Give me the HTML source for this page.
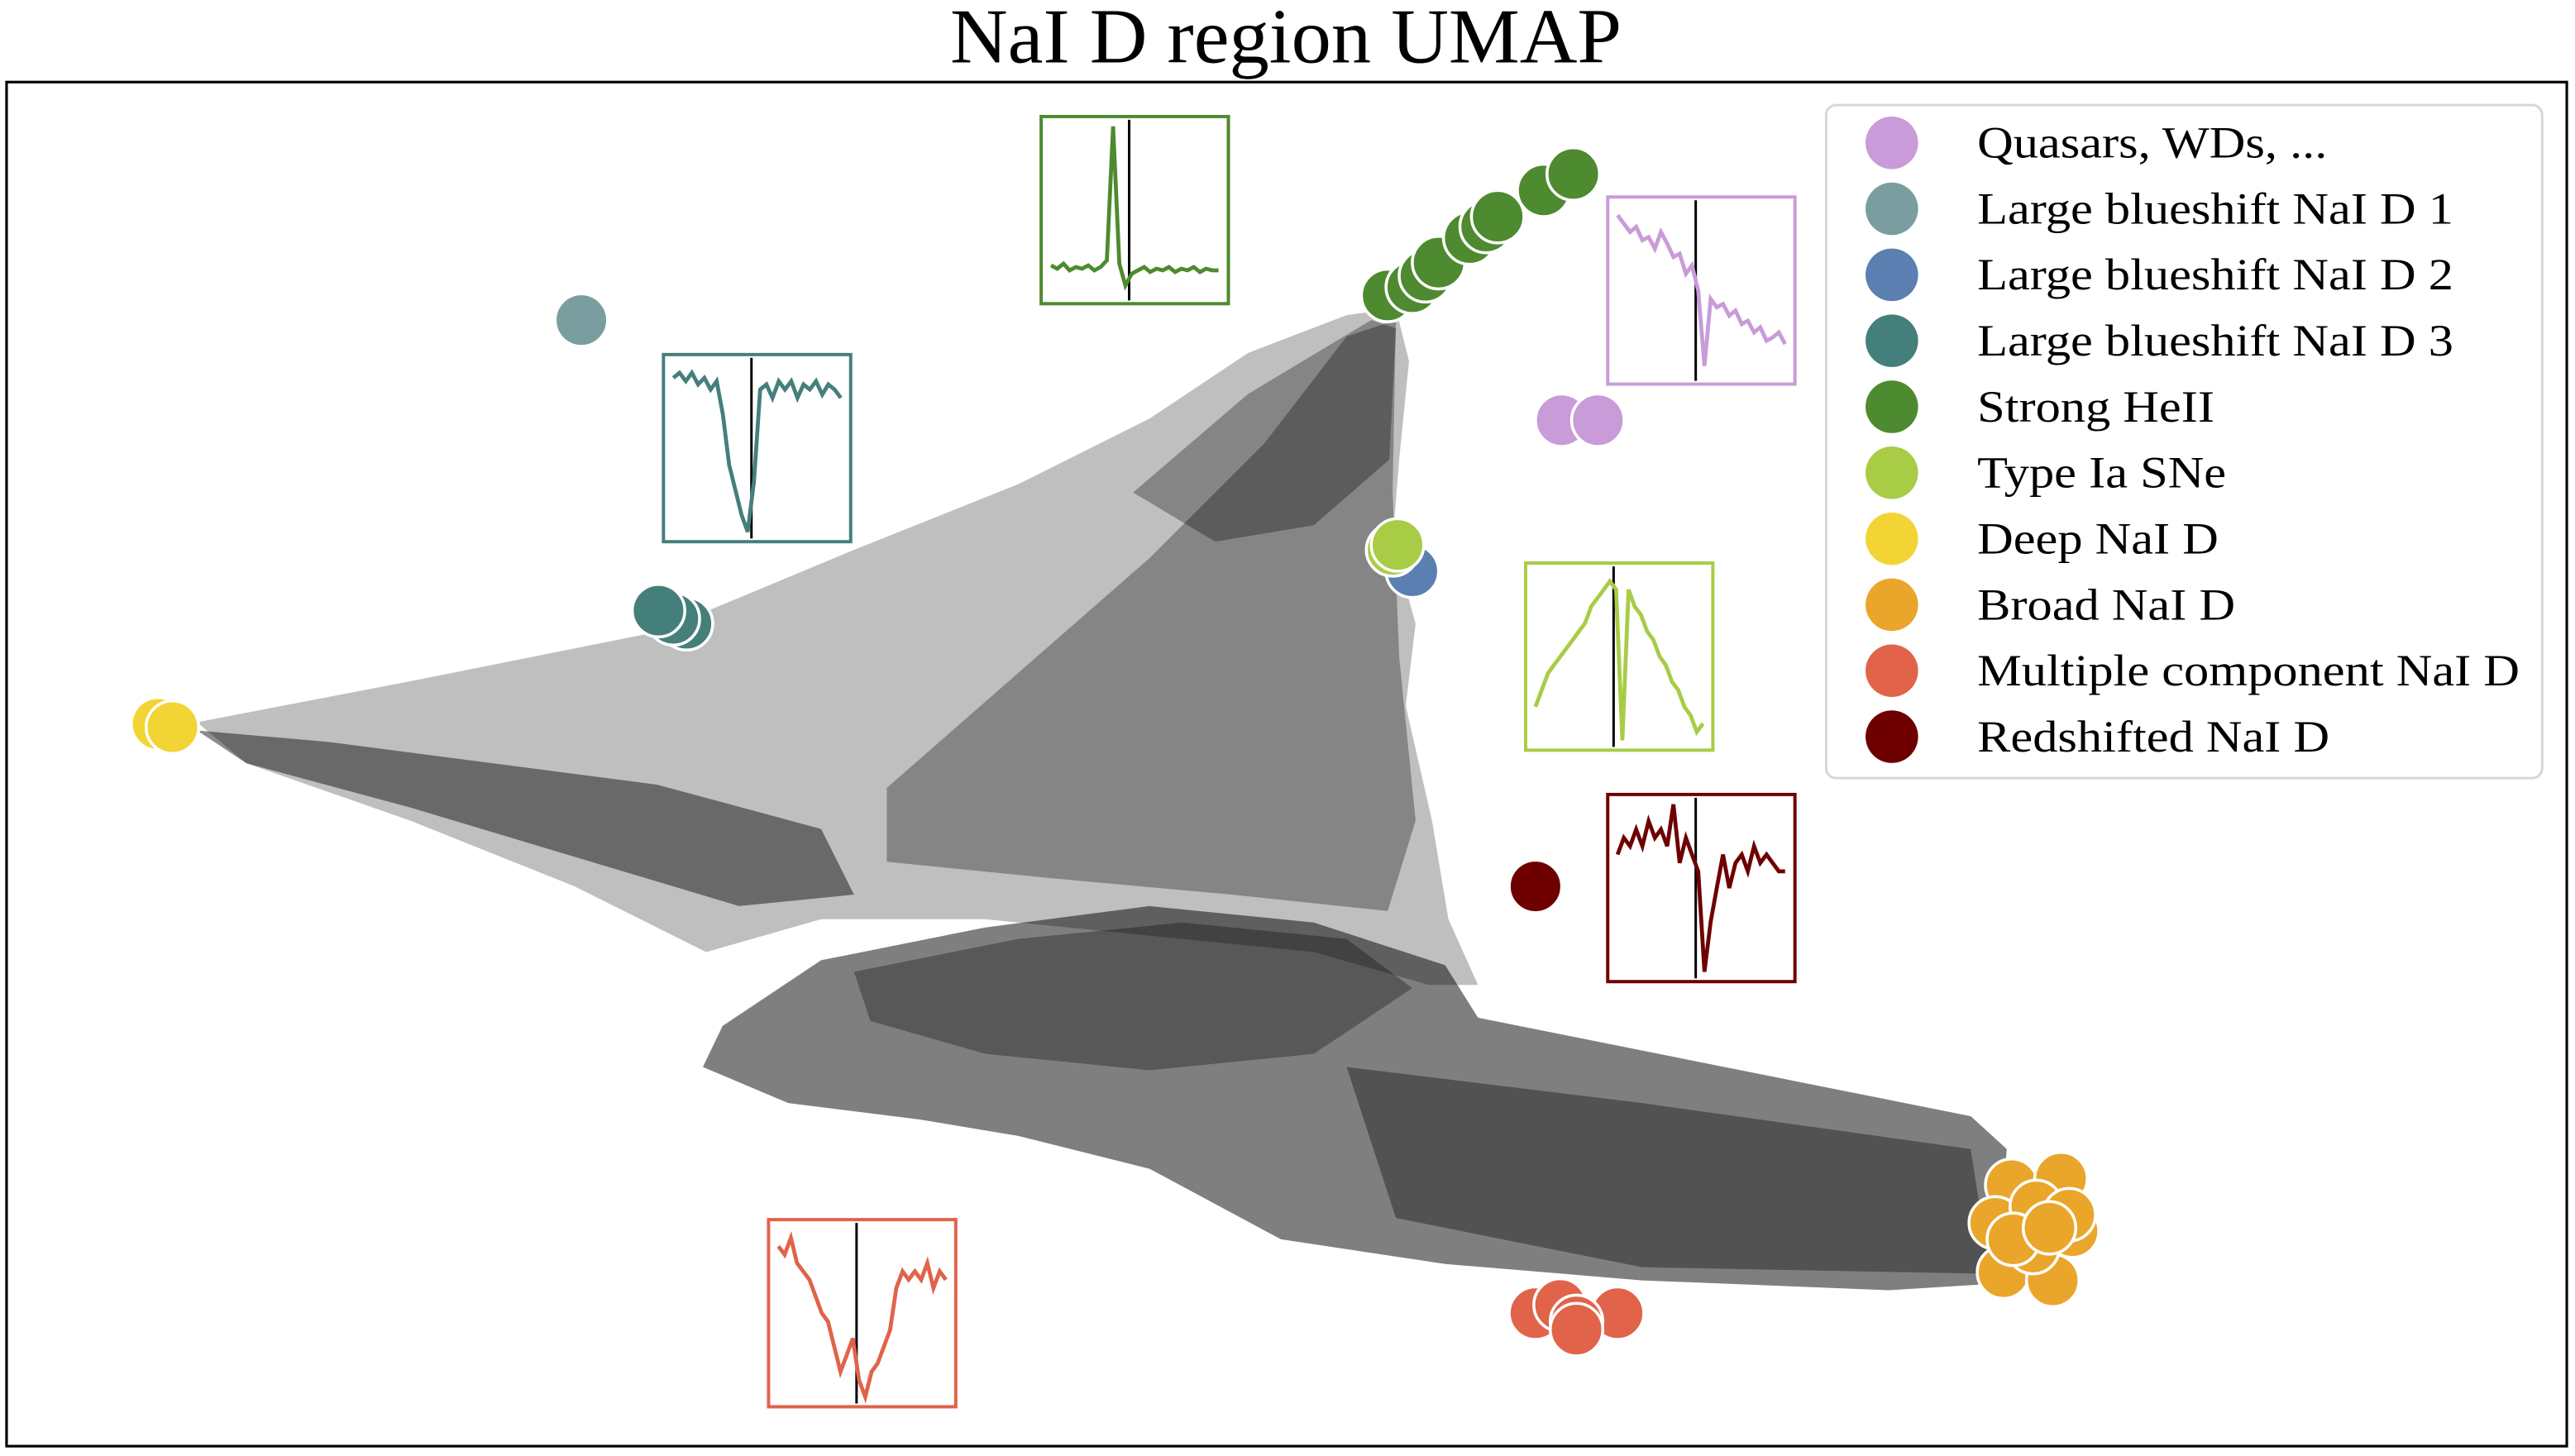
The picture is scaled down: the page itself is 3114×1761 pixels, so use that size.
<!DOCTYPE html>
<html><head><meta charset="utf-8"><style>
html,body{margin:0;padding:0;background:#fff;}
svg{display:block;}
text{font-family:"Liberation Serif",serif;}
</style></head><body>
<svg id="chart" width="3114" height="1761" viewBox="0 0 1568 887" preserveAspectRatio="none" xmlns="http://www.w3.org/2000/svg">
<rect width="1568" height="887" fill="#fff"/>
<text x="0" y="0" font-size="45" text-anchor="middle" transform="translate(783,38) scale(1.08,1.05)">NaI D region UMAP</text>
<g id="cloud"></g>
<g id="insets"></g>
<g id="markers"></g>
<rect x="4" y="50" width="1559" height="831" fill="none" stroke="#000" stroke-width="1.6"/>
<g id="legend">
<rect x="1112" y="64" width="436" height="410" rx="6" fill="#fff" fill-opacity="0.85" stroke="#d6d6d6" stroke-width="1.5"/>
</g>
</svg>
<script>
const NS="http://www.w3.org/2000/svg";
const categories=["Quasars, WDs, ...","Large blueshift NaI D 1","Large blueshift NaI D 2","Large blueshift NaI D 3","Strong HeII","Type Ia SNe","Deep NaI D","Broad NaI D","Multiple component NaI D","Redshifted NaI D"];
const colors=["#c99bd9","#7a9e9f","#5b7fb0","#457f7c","#4e8a2f","#a8cc46","#f2d535","#e9a62a","#e0634a","#6e0000"];
const quasarX=[951,973], quasarY=[256,256];
const lb1X=[354], lb1Y=[195];
const lb2X=[860], lb2Y=[348];
const lb3X=[418,410,401], lb3Y=[380,377,372];
const heiiX=[845,860,868,876,895,905,912,940,958], heiiY=[180,175,168,160,145,138,132,116,106];
const iaX=[848,851], iaY=[335,332];
const deepX=[96,105], deepY=[441,443];
const broadX=[1225,1255,1215,1240,1262,1230,1220,1250,1238,1260,1226,1248], broadY=[722,718,745,735,750,765,775,780,760,740,755,748];
const multX=[985,935,950,960,960], multY=[800,800,795,805,810];
const redX=[935], redY=[540];
const clusterX=[quasarX,lb1X,lb2X,lb3X,heiiX,iaX,deepX,broadX,multX,redX];
const clusterY=[quasarY,lb1Y,lb2Y,lb3Y,heiiY,iaY,deepY,broadY,multY,redY];

const spHeII=[0.83,0.85,0.82,0.86,0.84,0.85,0.83,0.86,0.84,0.8,0.0,0.82,0.95,0.88,0.86,0.84,0.87,0.85,0.86,0.84,0.87,0.85,0.86,0.84,0.87,0.85,0.86,0.86];
const spQuasar=[0.05,0.1,0.15,0.12,0.2,0.18,0.25,0.15,0.22,0.3,0.28,0.4,0.35,0.5,0.95,0.55,0.6,0.58,0.65,0.62,0.7,0.68,0.75,0.72,0.8,0.78,0.75,0.82];
const spLB3=[0.08,0.05,0.1,0.05,0.12,0.08,0.15,0.1,0.3,0.6,0.75,0.9,1.0,0.7,0.15,0.12,0.2,0.1,0.15,0.1,0.2,0.12,0.15,0.1,0.18,0.12,0.15,0.2];
const spIa=[0.8,0.7,0.6,0.55,0.5,0.45,0.4,0.35,0.3,0.2,0.15,0.1,0.05,0.1,1.0,0.1,0.2,0.25,0.35,0.4,0.5,0.55,0.65,0.7,0.8,0.85,0.95,0.9];
const spRed=[0.3,0.2,0.25,0.15,0.25,0.1,0.2,0.15,0.25,0.0,0.35,0.2,0.3,0.4,1.0,0.7,0.5,0.3,0.5,0.35,0.3,0.4,0.25,0.35,0.3,0.35,0.4,0.4];
const spMult=[0.1,0.15,0.05,0.2,0.25,0.3,0.4,0.5,0.55,0.7,0.85,0.75,0.65,0.9,1.0,0.85,0.8,0.7,0.6,0.35,0.25,0.3,0.25,0.3,0.2,0.35,0.25,0.3];
const insetSpectra=[spHeII,spQuasar,spLB3,spIa,spRed,spMult];
const insetColors=["#4e8a2f","#c99bd9","#457f7c","#a8cc46","#6e0000","#e0634a"];
const insetNames=["inset-strong-heii","inset-quasars","inset-large-blueshift-3","inset-type-ia","inset-redshifted","inset-multiple-component"];
const insetBoxX=[634,979,404,929,979,468], insetBoxY=[71,120,216,343,484,743];

function mk(tag,attrs,parent){const e=document.createElementNS(NS,tag);for(const k in attrs)e.setAttribute(k,attrs[k]);parent.appendChild(e);return e;}

// point cloud density regions
const cloud=document.getElementById('cloud');
const regions=[
 {o:0.25,p:"120,440 250,415 400,385 520,335 620,295 700,255 760,215 820,192 850,188 858,220 852,280 848,330 862,380 856,430 872,500 882,560 900,600 870,600 800,580 700,570 600,560 500,560 430,580 350,540 250,500 150,465"},
 {o:0.3,p:"540,480 620,410 700,340 770,270 820,205 850,195 848,300 852,400 862,500 845,555 750,545 640,535 540,525"},
 {o:0.3,p:"690,300 760,240 835,195 850,200 846,280 800,320 740,330"},
 {o:0.45,p:"120,445 200,452 300,465 400,478 500,505 520,545 450,552 350,522 250,492 150,465"},
 {o:0.5,p:"440,625 500,585 600,565 700,552 800,562 880,588 900,620 1000,640 1100,660 1200,680 1222,700 1215,782 1150,786 1000,780 880,770 780,755 700,712 620,692 560,682 480,672 428,650"},
 {o:0.35,p:"820,650 1000,672 1200,700 1212,776 1000,772 850,742"},
 {o:0.3,p:"520,592 620,572 720,562 820,572 860,602 800,642 700,652 600,642 530,622"}
];
regions.forEach((r,i)=>{const e=mk('polygon',{points:r.p,fill:'#000','fill-opacity':r.o},cloud);

});

// insets
const insets=document.getElementById('insets');
insetSpectra.forEach((sp,i)=>{
 const g=mk('g',{},insets);
 
 
 const x0=insetBoxX[i],y0=insetBoxY[i],w=114,h=114;
 mk('rect',{x:x0,y:y0,width:w,height:h,fill:'#fff',stroke:insetColors[i],'stroke-width':2},g);
 const xs=v=>x0+6+v/(sp.length-1)*(w-12);
 const ys=v=>y0+6+v*(h-12);
 let d=sp.map((v,j)=>(j?'L':'M')+xs(j).toFixed(1)+','+ys(v).toFixed(1)).join(' ');
 const ln=mk('line',{x1:x0+w*0.47,x2:x0+w*0.47,y1:y0+2,y2:y0+h-2,stroke:'#000','stroke-width':1.5},g);
 
 
 const p=mk('path',{d:d,fill:'none',stroke:insetColors[i],'stroke-width':2.4},g);
 
 
});

// markers
const markers=document.getElementById('markers');
clusterX.forEach((xs,i)=>{xs.forEach((x,j)=>{
 const c=mk('circle',{cx:x,cy:clusterY[i][j],r:16,fill:colors[i],stroke:'#fff','stroke-width':1.8},markers);
 
 
});});

// legend
const legend=document.getElementById('legend');
categories.forEach((c,i)=>{
 const y=87+i*40.2;
 const g=mk('g',{},legend);
 
 
 mk('circle',{cx:1152,cy:y,r:16,fill:colors[i]},g);
 const t=mk('text',{x:0,y:0,'font-size':26,transform:'translate(1204,'+(y+9)+') scale(1.17,1.05)'},g);
 t.textContent=c;
});
</script>
</body></html>
